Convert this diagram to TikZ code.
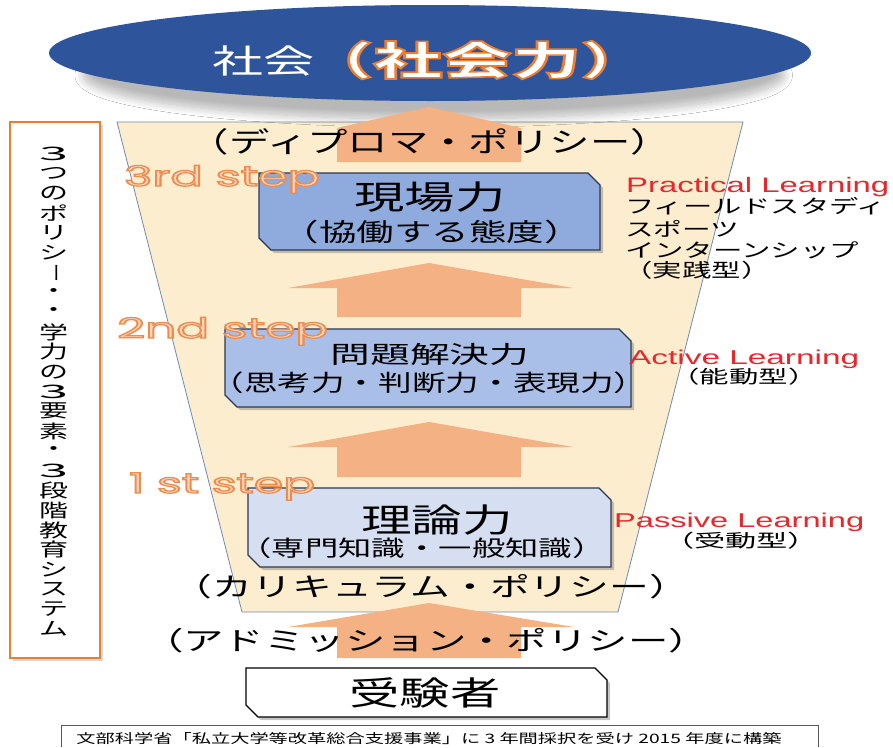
\documentclass[tikz,border=0pt]{standalone}
\usepackage{fontspec}
\usepackage{graphicx}
\usetikzlibrary{shapes.geometric,shadows,shadows.blur}
\newfontfamily\jp{Noto Sans CJK JP}
\newfontfamily\lat{Liberation Sans}
\newfontfamily\stepf{Poppins}
\definecolor{ellblue}{RGB}{46,84,155}
\definecolor{trapfill}{RGB}{252,237,207}
\definecolor{trapedge}{RGB}{110,140,180}
\definecolor{arrfill}{RGB}{244,177,131}
\definecolor{boxa}{RGB}{143,170,220}
\definecolor{boxb}{RGB}{170,191,231}
\definecolor{boxc}{RGB}{214,223,242}
\definecolor{boxedge}{RGB}{43,56,82}
\definecolor{orng}{RGB}{237,125,49}
\definecolor{stepfill}{RGB}{250,214,186}
\definecolor{redtxt}{RGB}{232,38,43}
\newcommand{\fit}[3]{\resizebox{#1pt}{\height}{\fontsize{#2pt}{#2pt}\selectfont #3}}
% outlined text: #1 line width, #2 stroke rgb, #3 text
\newcommand{\outl}[3]{\special{pdf:literal 2 Tr #1 w #2 RG}#3\special{pdf:literal 0 Tr}}
\tikzset{
  boxshadow/.style={drop shadow={shadow xshift=3pt, shadow yshift=-3pt, opacity=0.45}},
  txt/.style={inner sep=0pt, outer sep=0pt, text=black},
  arr/.style={fill=arrfill, draw=none},
  redl/.style={inner sep=0pt, text=redtxt, anchor=base west},
  stepl/.style={inner sep=0pt, anchor=base west}
}
% chamfered box: name, x1, y1, x2, y2, fill, draw
\newcommand{\chbox}[7]{%
  \path[fill=#6, draw=#7, line width=1.1pt, boxshadow]
    (#2,#3) -- (#4-12,#3) -- (#4,#3+12) -- (#4,#5) -- (#2+12,#5) -- (#2,#5-12) -- cycle;
  \coordinate (#1) at ({(#2+#4)/2},{(#3+#5)/2});}
\begin{document}
\begin{tikzpicture}[x=1pt,y=-1pt]
\useasboundingbox (0,0) rectangle (893,747);
\fill[white] (0,0) rectangle (893,747);
% trapezoid
\draw[fill=trapfill, draw=trapedge, line width=0.8pt] (117,122) -- (743,122) -- (618,612) -- (242,612) -- cycle;
% ellipse with shadow
\node[ellipse, fill=ellblue, minimum width=762pt, minimum height=96pt, inner sep=0pt,
  blur shadow={shadow xshift=4pt, shadow yshift=-24pt, shadow scale=0.92, shadow blur steps=12, shadow blur radius=9pt, shadow opacity=28}] (soc) at (430,53) {};
\node[txt, text=white] (socA) at (263,61) {\fit{102}{33}{\jp 社会}};
\node[txt] (socB) at (477,60) {\fit{346}{40}{\jp\bfseries\color{white}\outl{1.6}{0.93 0.49 0.19}{（社会力）}}};
% arrows
\fill[arr] (429,107) -- (521,128) -- (521,162) -- (337,162) -- (337,128) -- cycle;
\fill[arr] (429,263) -- (573,288) -- (521,288) -- (521,317) -- (337,317) -- (337,288) -- (288,288) -- cycle;
\fill[arr] (429,422) -- (573,447) -- (521,447) -- (521,477) -- (337,477) -- (337,447) -- (288,447) -- cycle;
\fill[arr] (429,603) -- (574,627) -- (521,627) -- (521,658) -- (337,658) -- (337,627) -- (288,627) -- cycle;
% texts top
\node[txt] (dp) at (430,142) {\fit{482}{28}{\jp （ディプロマ・ポリシー）}};
% boxes
\chbox{b3}{259}{173}{600}{250}{boxa}{boxedge}
\chbox{b2}{225}{329}{631}{407}{boxb}{boxedge}
\chbox{b1}{248}{488}{611}{567}{boxc}{boxedge}
\chbox{b0}{246}{668}{607}{717}{white}{black}
% box texts
\node[txt] (t3a) at (430,197) {\fit{151}{33}{\jp 現場力}};
\node[txt] (t3b) at (431.5,232) {\fit{300}{25}{\jp （協働する態度）}};
\node[txt] (t2a) at (430,354) {\fit{199}{24}{\jp 問題解決力}};
\node[txt] (t2b) at (429,383) {\fit{437}{23}{\jp （思考力・判断力・表現力）}};
\node[txt] (t1a) at (437,520) {\fit{152}{33}{\jp 理論力}};
\node[txt] (t1b) at (422,548) {\fit{367}{22}{\jp （専門知識・一般知識）}};
\node[txt] (t0) at (425,693) {\fit{151}{33}{\jp 受験者}};
\node[txt] (cp) at (431,587) {\fit{516}{26}{\jp （カリキュラム・ポリシー）}};
\node[txt] (ap) at (426,641) {\fit{566}{26}{\jp （アドミッション・ポリシー）}};
% step labels
\node[stepl] (s3) at (124,186) {\fit{196}{28}{\stepf\color{stepfill}\outl{1.2}{0.93 0.55 0.31}{3rd step}}};
\node[stepl] (s2) at (117,338) {\fit{211}{28}{\stepf\color{stepfill}\outl{1.2}{0.93 0.55 0.31}{2nd step}}};
\node[stepl] (s1) at (129,493) {\fit{186}{28}{\stepf\color{stepfill}\outl{1.2}{0.93 0.55 0.31}{1 st step}}};
% right labels
\node[redl] (pl) at (626,192) {\fit{263}{21}{\lat Practical Learning}};
\node[txt, anchor=west] (r1) at (625,206) {\fit{261}{19}{\jp フィールドスタディ}};
\node[txt, anchor=west] (r2) at (625,229) {\fit{114}{19}{\jp スポーツ}};
\node[txt, anchor=west] (r3) at (625,250) {\fit{234}{19}{\jp インターンシップ}};
\node[txt] (r4) at (697,270) {\fit{147}{19}{\jp （実践型）}};
\node[redl] (al) at (629,364) {\fit{230}{20}{\lat Active Learning}};
\node[txt] (r5) at (744,377) {\fit{147}{18}{\jp （能動型）}};
\node[redl] (psl) at (614,527) {\fit{250}{20}{\lat Passive Learning}};
\node[txt] (r6) at (741,541) {\fit{156}{18}{\jp （受動型）}};
% left box
\node[draw=orng, line width=2.8pt, fill=white, minimum width=90pt, minimum height=536pt, inner sep=0pt,
  drop shadow={shadow xshift=3pt, shadow yshift=-3pt, opacity=0.3}] (lb) at (55,390) {};
\foreach \ch [count=\i from 0] in {3,つ,の,ポ,リ,シ,ー,・,・,学,力,の,3,要,素,・,3,段,階,教,育,シ,ス,テ,ム}{
  \ifnum\i=6
    \node[txt, rotate=-90] (v\i) at (54,{153.9+19.8*\i}) {\fontsize{19pt}{19pt}\selectfont\jp ー};
  \else
    \node[txt] (v\i) at (54,{153.9+19.8*\i}) {\fit{29}{18.5}{\jp \ch}};
  \fi
}
% footer
\draw[gray!70!black, line width=0.8pt] (61,747) -- (61,725) -- (818,725) -- (818,747);
\node[txt] (ft) at (429,739) {\fit{705}{13}{\jp 文部科学省「私立大学等改革総合支援事業」に 3 年間採択を受け 2015 年度に構築}};
\end{tikzpicture}
\end{document}
